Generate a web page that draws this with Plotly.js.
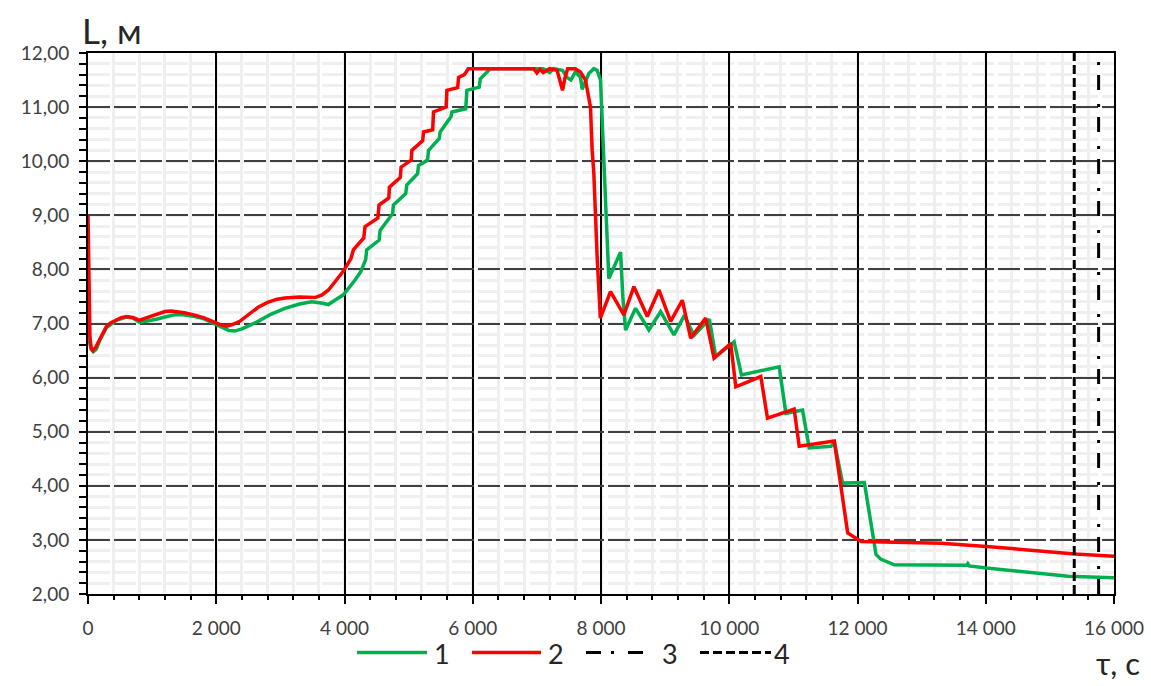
<!DOCTYPE html>
<html>
<head>
<meta charset="utf-8">
<script src="https://cdn.plot.ly/plotly-3.0.1.min.js"></script>
<style>html,body{margin:0;padding:0;background:#fff;}#chart{width:1151px;height:686px;}</style>
</head>
<body>
<div id="chart"></div>
<script>
// Series 1 (green)
const t1 = [0, 10, 25, 50, 85, 130, 180, 284, 440, 597, 700, 805, 900, 1065, 1200, 1352, 1482, 1664, 1800, 1977, 2100, 2200, 2290, 2400, 2530, 2653, 2850, 3070, 3300, 3487, 3640, 3747, 3850, 3981, 4150, 4250, 4330, 4346, 4540, 4555, 4750, 4763, 4955, 4971, 5140, 5154, 5295, 5310, 5478, 5492, 5660, 5675, 5890, 5909, 6100, 6117, 6200, 6273, 7100, 7200, 7260, 7400, 7470, 7530, 7600, 7680, 7706, 7760, 7810, 7888, 7940, 7992, 8018, 8044, 8070, 8100, 8122, 8305, 8340, 8383, 8539, 8747, 8930, 9138, 9300, 9450, 9690, 9789, 10076, 10190, 10779, 10883, 11143, 11247, 11586, 11640, 11768, 12107, 12289, 12367, 12575, 13700, 13720, 13740, 14008, 15284, 16000];
const L1 = [7.62, 7.00, 6.65, 6.52, 6.48, 6.53, 6.68, 6.92, 7.06, 7.12, 7.10, 7.02, 7.04, 7.08, 7.12, 7.16, 7.16, 7.13, 7.09, 7.00, 6.93, 6.87, 6.86, 6.90, 6.97, 7.04, 7.17, 7.28, 7.36, 7.40, 7.38, 7.35, 7.43, 7.53, 7.78, 7.95, 8.18, 8.36, 8.54, 8.72, 9.03, 9.19, 9.40, 9.56, 9.77, 9.92, 10.02, 10.20, 10.42, 10.54, 10.82, 10.91, 10.97, 11.31, 11.37, 11.52, 11.62, 11.71, 11.71, 11.64, 11.71, 11.68, 11.55, 11.50, 11.65, 11.55, 11.33, 11.50, 11.62, 11.71, 11.68, 11.50, 10.69, 10.26, 9.15, 8.30, 7.83, 8.32, 7.50, 6.88, 7.28, 6.88, 7.22, 6.79, 7.15, 6.78, 7.08, 6.39, 6.66, 6.05, 6.20, 5.34, 5.40, 4.70, 4.73, 4.80, 4.05, 4.06, 2.73, 2.64, 2.54, 2.53, 2.56, 2.52, 2.48, 2.33, 2.30];

// Series 2 (red)
const t2 = [0, 8, 15, 30, 50, 75, 120, 180, 230, 284, 350, 440, 520, 597, 700, 805, 900, 1000, 1100, 1200, 1300, 1400, 1500, 1650, 1800, 1977, 2080, 2160, 2250, 2367, 2523, 2653, 2800, 2950, 3070, 3300, 3540, 3650, 3750, 3850, 3950, 4000, 4100, 4138, 4300, 4320, 4520, 4539, 4690, 4701, 4870, 4883, 5040, 5050, 5220, 5232, 5375, 5388, 5585, 5597, 5765, 5779, 5870, 5930, 6950, 7000, 7050, 7100, 7200, 7315, 7370, 7400, 7440, 7480, 7600, 7680, 7758, 7810, 7836, 7862, 7888, 7940, 7990, 8148, 8357, 8513, 8722, 8903, 9086, 9268, 9398, 9633, 9763, 10023, 10102, 10492, 10596, 11012, 11091, 11638, 11742, 11847, 12055, 13305, 14008, 15388, 16000];
const L2 = [9.00, 8.20, 7.20, 6.75, 6.55, 6.50, 6.56, 6.70, 6.84, 6.94, 7.01, 7.07, 7.11, 7.13, 7.11, 7.06, 7.10, 7.15, 7.19, 7.22, 7.23, 7.22, 7.20, 7.16, 7.11, 7.02, 6.97, 6.95, 6.98, 7.04, 7.19, 7.30, 7.39, 7.45, 7.47, 7.49, 7.48, 7.53, 7.62, 7.76, 7.92, 8.00, 8.20, 8.36, 8.58, 8.79, 8.95, 9.19, 9.32, 9.52, 9.70, 9.89, 10.02, 10.20, 10.38, 10.54, 10.58, 10.91, 11.00, 11.31, 11.36, 11.55, 11.60, 11.71, 11.71, 11.63, 11.70, 11.64, 11.71, 11.68, 11.45, 11.31, 11.55, 11.71, 11.71, 11.65, 11.50, 11.12, 11.00, 10.20, 9.78, 8.23, 7.10, 7.59, 7.16, 7.68, 7.13, 7.62, 7.04, 7.43, 6.73, 7.10, 6.36, 6.63, 5.83, 6.02, 5.25, 5.42, 4.73, 4.83, 3.99, 3.13, 2.97, 2.94, 2.88, 2.74, 2.70];

// Series 3 (dash-dot) and 4 (dashed) vertical markers
const t3 = [15760, 15760];
const L3 = [2, 12];
const t4 = [15380, 15380];
const L4 = [2, 12];

const seriesNames = ['1', '2', '3', '4'];

const xTickVals = [0, 2000, 4000, 6000, 8000, 10000, 12000, 14000, 16000];
const xTickText = ['0', '2 000', '4 000', '6 000', '8 000', '10 000', '12 000', '14 000', '16 000'];
const yTickVals = [2, 3, 4, 5, 6, 7, 8, 9, 10, 11, 12];
const yTickText = ['2,00', '3,00', '4,00', '5,00', '6,00', '7,00', '8,00', '9,00', '10,00', '11,00', '12,00'];

const GREEN = '#00b050', RED = '#ff0000';
const DASHDOT = '15px,10px,3px,14px';
const DASHED = '9px,4px';
const FONT = 'Lato, "Noto Sans", "DejaVu Sans", sans-serif';

const traces = [
  {x: t1, y: L1, name: seriesNames[0], mode: 'lines', line: {color: GREEN, width: 3.5}},
  {x: t2, y: L2, name: seriesNames[1], mode: 'lines', line: {color: RED, width: 3.5}},
  {x: t3, y: L3, name: seriesNames[2], mode: 'lines', line: {color: '#000', width: 3, dash: DASHDOT}},
  {x: t4, y: L4, name: seriesNames[3], mode: 'lines', line: {color: '#000', width: 3, dash: DASHED}}
];

// legend drawn manually (pixel -> paper helpers)
const PL = 88, PW = 1026, PB = 594.5, PH = 541.5;
const px = v => (v - PL) / PW;
const py = v => (PB - v) / PH;
const legY = 653;
const legendItems = [
  {x0: 357, x1: 427, tx: 432, color: GREEN, dash: 'solid', w: 3.5},
  {x0: 472, x1: 541, tx: 546, color: RED, dash: 'solid', w: 3.5},
  {x0: 586, x1: 643, tx: 660, color: '#000', dash: DASHDOT, w: 3},
  {x0: 700, x1: 771, tx: 772, color: '#000', dash: DASHED, w: 3}
];
const shapes = legendItems.map(it => ({
  type: 'line', xref: 'paper', yref: 'paper',
  x0: px(it.x0), x1: px(it.x1), y0: py(legY), y1: py(legY),
  line: {color: it.color, width: it.w, dash: it.dash}
}));
const annotations = legendItems.map((it, i) => ({
  xref: 'paper', yref: 'paper', x: px(it.tx), y: py(legY + 1),
  xanchor: 'left', yanchor: 'middle', showarrow: false,
  text: seriesNames[i], font: {family: FONT, size: 27, color: '#262626'}
}));
annotations.push({
  xref: 'paper', yref: 'paper', x: px(80), y: py(30),
  xanchor: 'left', yanchor: 'middle', showarrow: false,
  text: 'L, м', font: {family: FONT, size: 35, color: '#262626'}
});
annotations.push({
  xref: 'paper', yref: 'paper', x: px(1142), y: py(664),
  xanchor: 'right', yanchor: 'middle', showarrow: false,
  text: 'τ, с', font: {family: FONT, size: 31, color: '#262626'}
});

const layout = {
  width: 1151, height: 686,
  margin: {l: PL, r: 1151 - PL - PW, t: 53, b: 686 - PB},
  paper_bgcolor: '#fff', plot_bgcolor: '#fff',
  showlegend: false,
  font: {family: FONT, size: 19, color: '#404040'},
  xaxis: {
    range: [0, 16000], tickmode: 'array', tickvals: xTickVals, ticktext: xTickText,
    showgrid: true, gridcolor: '#000', gridwidth: 2,
    showline: true, linecolor: '#000', linewidth: 2, mirror: true,
    ticks: 'outside', ticklen: 8, tickwidth: 2, tickcolor: '#000',
    ticklabelstandoff: 8, zeroline: false,
    tickfont: {family: FONT, size: 19, color: '#404040'},
    minor: {dtick: 400, tick0: 0, ticks: 'outside', ticklen: 4, tickwidth: 2, tickcolor: '#000',
            showgrid: true, gridcolor: '#efefef', gridwidth: 3}
  },
  yaxis: {
    range: [2, 12], tickmode: 'array', tickvals: yTickVals, ticktext: yTickText,
    showgrid: true, gridcolor: '#404040', gridwidth: 2, griddash: '22px,4px',
    showline: true, linecolor: '#000', linewidth: 2, mirror: true,
    ticks: 'outside', ticklen: 7, tickwidth: 2, tickcolor: '#000',
    ticklabelstandoff: 6, zeroline: false,
    tickfont: {family: FONT, size: 19, color: '#404040'},
    minor: {dtick: 0.2, tick0: 2, ticks: 'outside', ticklen: 7, tickwidth: 2, tickcolor: '#000',
            showgrid: true, gridcolor: '#efefef', gridwidth: 3}
  },
  shapes: shapes,
  annotations: annotations
};

Plotly.newPlot('chart', traces, layout, {staticPlot: true, displayModeBar: false});
</script>
</body>
</html>
